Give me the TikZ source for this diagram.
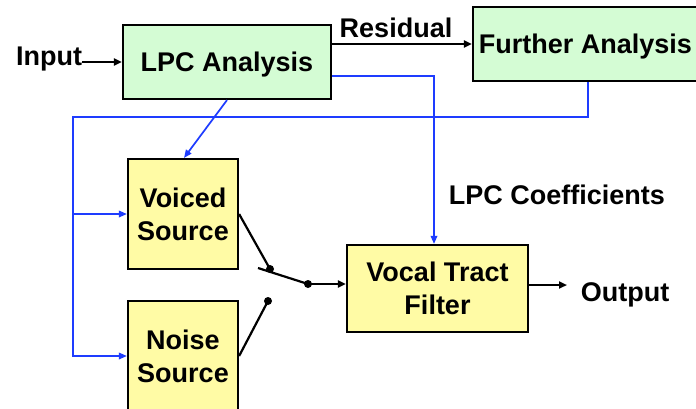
\documentclass[tikz,border=0pt]{standalone}
\usepackage{fontspec}
\setmainfont{Liberation Sans}
\usetikzlibrary{arrows.meta}
\definecolor{boxgreen}{HTML}{D4FCD4}
\definecolor{boxyellow}{HTML}{FFFBA5}
\definecolor{linkblue}{HTML}{1E3CFF}
\begin{document}
\begin{tikzpicture}[x=1pt,y=-1pt,
  txt/.style={font=\fontsize{27}{33}\selectfont\bfseries, inner sep=0pt, align=center},
  block/.style={txt, text depth=0pt, draw=black, line width=2.2pt},
  gbox/.style={block, fill=boxgreen},
  ybox/.style={block, fill=boxyellow},
  blk/.style={draw=black, line width=2.2pt},
  blkarrow/.style={blk, -{Triangle[length=8pt,width=7pt]}},
  blu/.style={draw=linkblue, line width=1.7pt},
  bluarrow/.style={blu, -{Triangle[length=8pt,width=6.5pt]}},
  dot/.style={circle, fill=black, inner sep=0pt, minimum size=8pt}]
\useasboundingbox (0,0) rectangle (696,408);
\fill[white] (0,0) rectangle (696,408);
% blocks
\node[gbox, minimum width=208pt, minimum height=74pt] (lpc) at (227,62) {LPC Analysis};
\node[gbox, minimum width=225pt, minimum height=74pt] (fa) at (585.5,44) {Further Analysis};
\node[ybox, minimum width=110pt, minimum height=110pt] (vs) at (183,214) {Voiced\\Source};
\node[ybox, minimum width=110pt, minimum height=110pt] (ns) at (183,356) {Noise\\Source};
\node[ybox, minimum width=181pt, minimum height=87pt] (vtf) at (437.5,288.5) {Vocal Tract\\Filter};
% labels
\node[txt] (input) at (49,59) {Input};
\node[txt] (resid) at (396,28) {Residual};
\node[txt] (coef) at (557,195) {LPC Coefficients};
\node[txt] (output) at (625,295) {Output};
% switch points
\node[dot] (sw1) at (270,269) {};
\node[dot] (sw2) at (268,301) {};
\node[dot] (piv) at (308,284) {};
\coordinate (armstart) at (258,268);
\coordinate (bus) at (73,117);
\coordinate (outend) at (567,285);
% black connectors
\draw[blkarrow] (input.east |- lpc.west) -- (lpc.west);
\draw[blkarrow] (lpc.east |- fa.west) -- (fa.west);
\draw[blk] (vs.east) -- (sw1.center);
\draw[blk] (ns.east) -- (sw2.center);
\draw[blk] (armstart) -- (piv.center);
\draw[blkarrow] (piv.center) -- (vtf.west |- piv);
\draw[blkarrow] (vtf.east |- outend) -- (outend);
% blue connectors
\draw[bluarrow] ([yshift=-14pt]lpc.east) -| ([xshift=-3.5pt]vtf.north);
\draw[bluarrow] (lpc.south) -- ([xshift=1pt]vs.north);
\draw[bluarrow] ([xshift=2.5pt]fa.south) |- (bus) |- (ns.west);
\draw[bluarrow] (bus |- vs.west) -- (vs.west);
\end{tikzpicture}
\end{document}
